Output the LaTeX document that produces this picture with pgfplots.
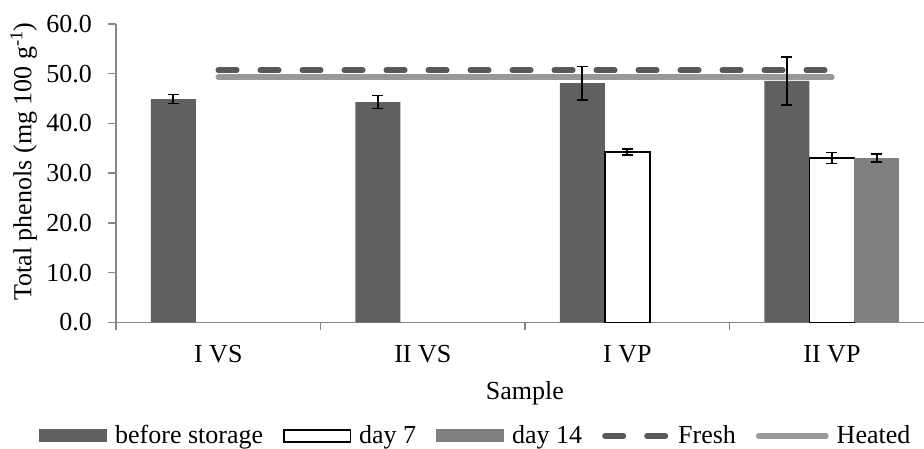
\documentclass[border=0pt]{standalone}
\usepackage{pgfplots}
\pgfplotsset{compat=1.18}
\usepackage{fontspec}
\setmainfont{Liberation Serif}
\definecolor{cbefore}{RGB}{96,96,96}
\definecolor{cday14}{RGB}{128,128,128}
\definecolor{cfresh}{RGB}{89,89,89}
\definecolor{cheated}{RGB}{153,153,153}
\definecolor{caxis}{RGB}{134,134,134}
\begin{document}
\fontsize{26pt}{31pt}\selectfont
\begin{tikzpicture}
\begin{axis}[
  at={(116pt,125.7pt)}, anchor=south west,
  scale only axis, width=808pt, height=298.3pt,
  xmin=-0.5, xmax=3.45, ymin=0, ymax=60,
  set layers,
  axis lines=left,
  axis line style={-, draw=caxis, line width=1.5pt},
  tick align=outside, major tick length=8pt,
  tick style={draw=caxis, line width=1.5pt},
  ytick={0,10,...,60},
  scaled y ticks=false,
  /pgf/number format/assume math mode=true,
  /pgf/number format/fixed,
  /pgf/number format/fixed zerofill,
  /pgf/number format/precision=1,
  yticklabel={\pgfmathprintnumber{\tick}\hspace*{16pt}},
  yticklabel style={anchor=east, inner sep=0pt},
  xtick={-0.5,0.5,1.5,2.5},
  xticklabels={I VS, II VS, I VP, II VP},
  xticklabel style={anchor=base, inner sep=0pt, xshift=102.28pt, yshift=-32pt},
  ylabel={Total phenols (mg 100 g\textsuperscript{-1})},
  ylabel style={at={(axis description cs:-0.1047,0.539)}, anchor=base},
  xlabel={Sample},
  xlabel style={at={(axis description cs:0.506,-0.26)}, anchor=base},
  legend style={at={(axis description cs:0.444,-0.381)}, anchor=center, draw=none, fill=none,
    inner sep=0pt, nodes={inner sep=0pt, anchor=west},
    /tikz/every odd column/.append style={column sep=8pt},
    /tikz/every even column/.append style={column sep=20pt}},
  legend columns=-1,
  legend cell align=left,
]
\addplot[ybar, bar width=45pt, bar shift=0pt, fill=cbefore, draw=none,
  legend image code/.code={\fill[cbefore] (0pt,-6.5pt) rectangle (68pt,6.5pt);},
  error bars/.cd, y dir=both, y explicit,
  error bar style={line width=1.8pt, black},
  error mark options={rotate=90, mark size=5.5pt, line width=1.8pt, black}]
  coordinates {(-0.22,44.9) +- (0,0.9) (0.78,44.3) +- (0,1.3) (1.78,48.1) +- (0,3.35) (2.78,48.55) +- (0,4.85)};
\addlegendentry{before storage}
\addplot[ybar, bar width=45pt, bar shift=0pt, fill=white, draw=black, line width=1.5pt,
  legend image code/.code={\draw[black, line width=1.5pt, fill=white] (0.75pt,-6pt) rectangle (67.25pt,6pt);},
  error bars/.cd, y dir=both, y explicit,
  error bar style={line width=1.8pt, black},
  error mark options={rotate=90, mark size=5.5pt, line width=1.8pt, black}]
  coordinates {(2,34.3) +- (0,0.6) (3,33.05) +- (0,1.1)};
\addlegendentry{day 7}
\addplot[ybar, bar width=45pt, bar shift=0pt, fill=cday14, draw=none,
  legend image code/.code={\fill[cday14] (0pt,-6.5pt) rectangle (68pt,6.5pt);},
  error bars/.cd, y dir=both, y explicit,
  error bar style={line width=1.8pt, black},
  error mark options={rotate=90, mark size=5.5pt, line width=1.8pt, black}]
  coordinates {(3.22,33.05) +- (0,0.75)};
\addlegendentry{day 14}
\addplot[cfresh, line width=5.5pt, line cap=round, dash pattern=on 18.5pt off 23.5pt, on layer=axis background,
  legend image code/.code={\draw[cfresh, line width=5.5pt, line cap=round, dash pattern=on 18.5pt off 23.5pt] (2.75pt,0pt) -- (65.25pt,0pt);}]
  coordinates {(0,50.7) (3,50.7)};
\addlegendentry{Fresh}
\addplot[cheated, line width=5.5pt, line cap=round, on layer=axis background,
  legend image code/.code={\draw[cheated, line width=5.5pt, line cap=round] (2.75pt,0pt) -- (70pt,0pt);}]
  coordinates {(0,49.3) (3,49.3)};
\addlegendentry{Heated}
\end{axis}
\pgfresetboundingbox
\path (0,0) rectangle (924pt,448pt);
\end{tikzpicture}
\end{document}
